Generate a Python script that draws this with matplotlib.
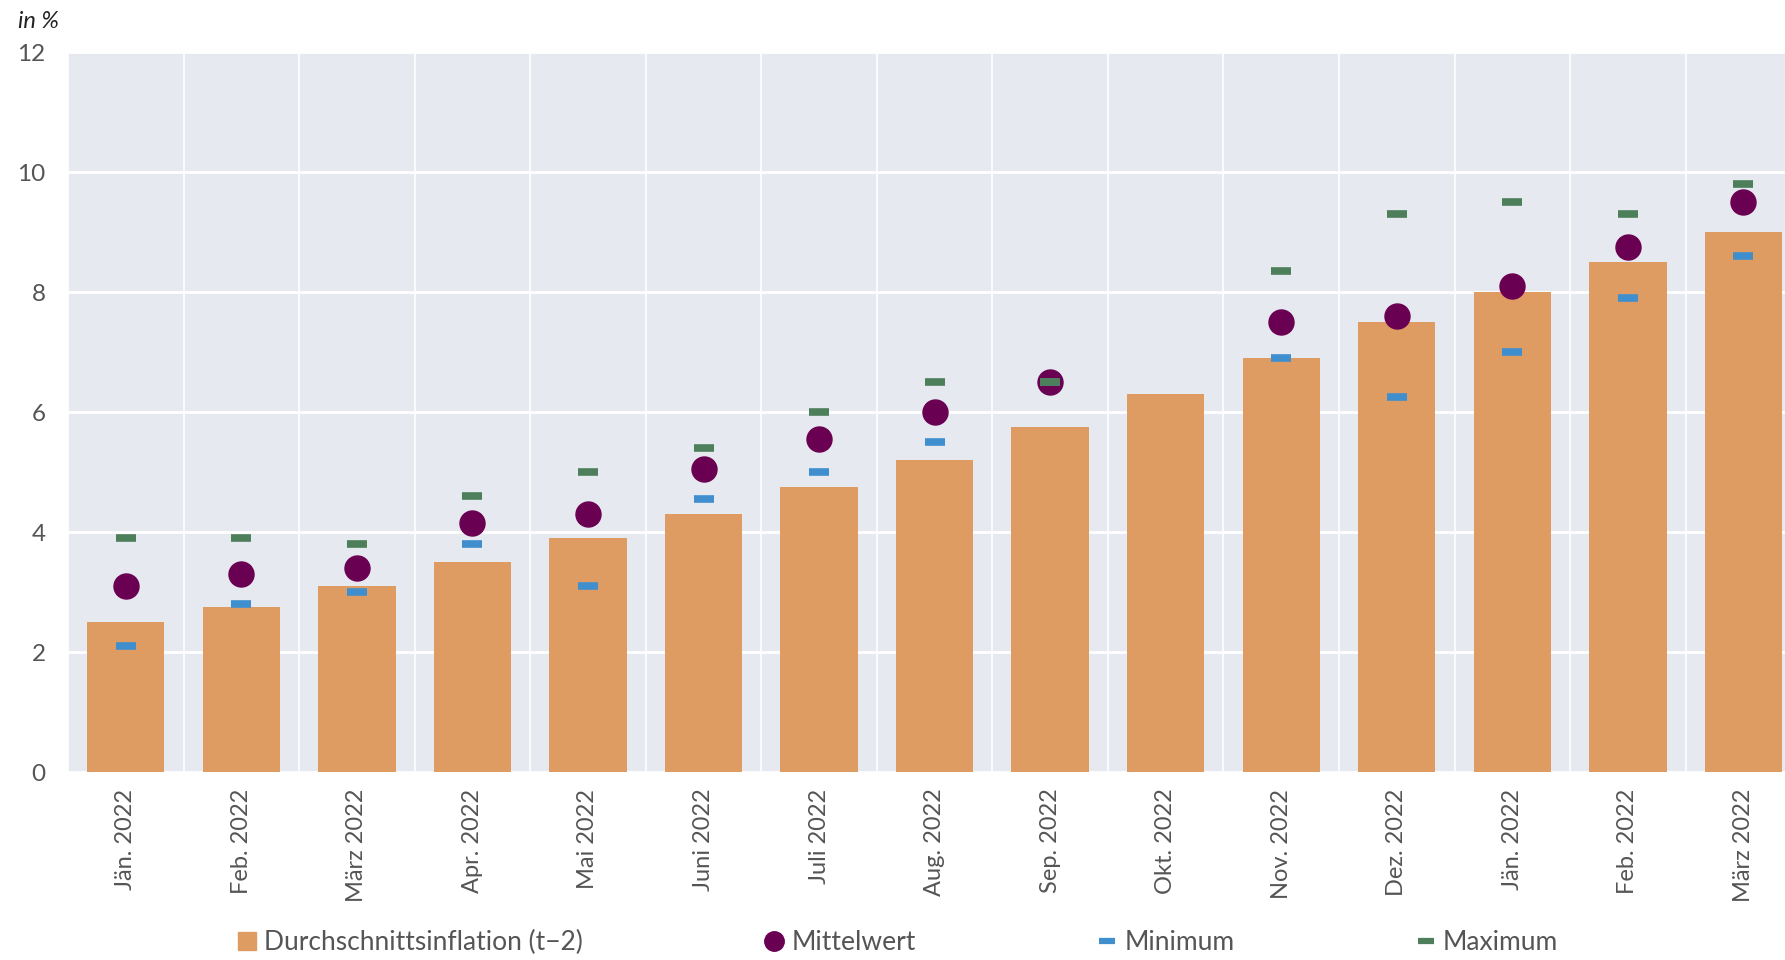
import numpy as np
import matplotlib.pyplot as plt
from matplotlib.patches import Patch
from matplotlib.lines import Line2D

plt.rcParams['font.family'] = ['Lato', 'DejaVu Sans']

months = ['Jän. 2022', 'Feb. 2022', 'März 2022', 'Apr. 2022', 'Mai 2022', 'Juni 2022',
          'Juli 2022', 'Aug. 2022', 'Sep. 2022', 'Okt. 2022', 'Nov. 2022', 'Dez. 2022',
          'Jän. 2022', 'Feb. 2022', 'März 2022']
avg_infl = [2.5, 2.75, 3.1, 3.5, 3.9, 4.3, 4.75, 5.2, 5.75, 6.3, 6.9, 7.5, 8.0, 8.5, 9.0]
mean_val = [3.1, 3.3, 3.4, 4.15, 4.3, 5.05, 5.55, 6.0, 6.5, np.nan, 7.5, 7.6, 8.1, 8.75, 9.5]
min_val = [2.1, 2.8, 3.0, 3.8, 3.1, 4.55, 5.0, 5.5, 6.5, np.nan, 6.9, 6.25, 7.0, 7.9, 8.6]
max_val = [3.9, 3.9, 3.8, 4.6, 5.0, 5.4, 6.0, 6.5, 6.5, np.nan, 8.35, 9.3, 9.5, 9.3, 9.8]

c_bar = '#DE9C63'
c_mean = '#6A0052'
c_min = '#3F8FCF'
c_max = '#4E7F5B'
c_txt = '#555555'

fig = plt.figure(figsize=(17.85, 9.6), dpi=100)
ax = fig.add_axes([0.0381, 0.1958, 0.9619, 0.75])
ax.set_facecolor('#E7E9F0')

x = np.arange(len(months))
ax.bar(x, avg_infl, width=0.67, color=c_bar, zorder=2)
ax.plot(x, mean_val, 'o', color=c_mean, markersize=18, zorder=3)
ax.plot(x, min_val, '_', color=c_min, markersize=15, mew=5.5, zorder=4)
ax.plot(x, max_val, '_', color=c_max, markersize=15, mew=5.5, zorder=5)

ax.set_yticks(range(0, 13, 2))
ax.set_xticks(x)
ax.set_xticklabels(months, rotation=90, fontsize=17, color=c_txt)
ax.set_xticks(np.arange(-0.5, 15, 1), minor=True)
# limits after ticks, otherwise set_xticks widens the view
ax.set_xlim(-0.5, 14.36)
ax.set_ylim(0, 12)
ax.tick_params(axis='y', labelsize=17.5, labelcolor=c_txt, length=0, pad=16)
ax.tick_params(axis='x', which='both', length=0, pad=12)
ax.grid(axis='y', color='white', linewidth=2, zorder=1)
ax.grid(axis='x', which='minor', color='white', linewidth=1.2, zorder=1)
ax.grid(axis='x', which='major', visible=False)
ax.set_axisbelow(True)
for s in ax.spines.values():
    s.set_visible(False)

fig.text(0.01, 0.978, 'in %', fontsize=17, style='italic', color='#222222', va='center')

handles = [
    Patch(color=c_bar, label='Durchschnittsinflation (t−2)'),
    Line2D([], [], linestyle='none', marker='o', color=c_mean, markersize=14, label='Mittelwert'),
    Line2D([], [], linestyle='none', marker='_', color=c_min, markersize=12, mew=4.5, label='Minimum'),
    Line2D([], [], linestyle='none', marker='_', color=c_max, markersize=12, mew=4.5, label='Maximum'),
]
fig.legend(handles=handles, loc='center', bbox_to_anchor=(0.503, 0.018), ncol=4, frameon=False,
           fontsize=19, labelcolor=c_txt, handlelength=0.7, handletextpad=0.3, columnspacing=6.9)

fig.savefig('out.png', dpi=100)
